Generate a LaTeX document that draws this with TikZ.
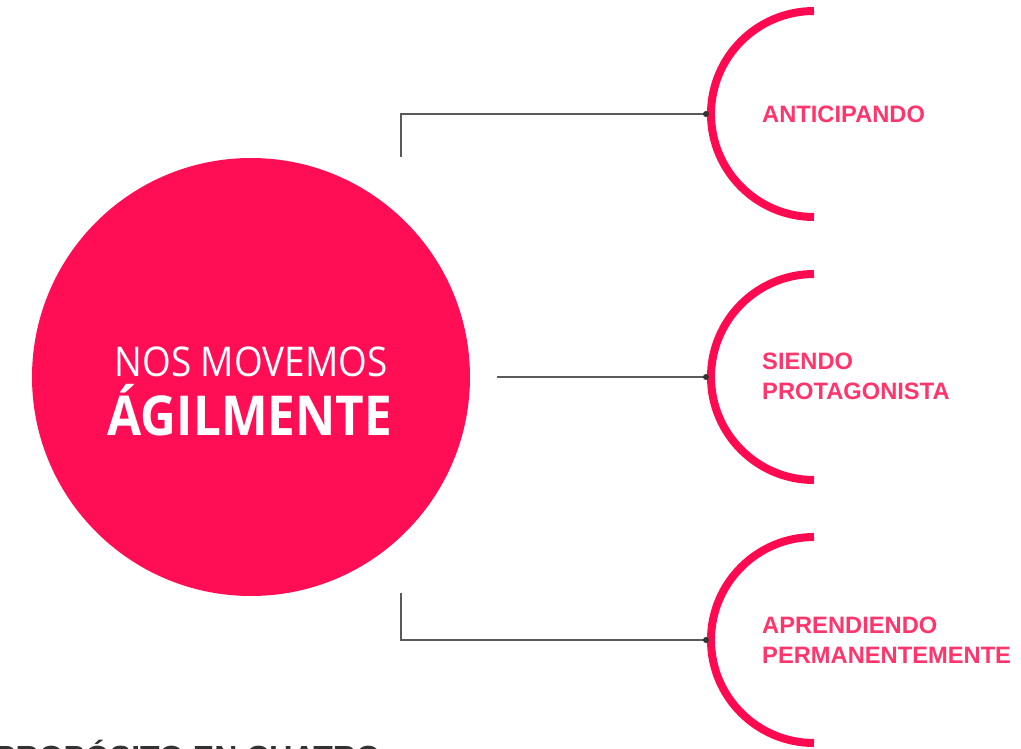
\documentclass[tikz,border=0pt]{standalone}
\usepackage{fontspec}
\setmainfont{Liberation Sans}
\newfontfamily\osans[FakeStretch=0.9]{Open Sans}
\definecolor{brand}{HTML}{FF0D55}
\definecolor{arccol}{HTML}{FF0A50}
\definecolor{labcol}{HTML}{FF356B}
\definecolor{linecol}{HTML}{5A5A5A}
\definecolor{dotcol}{HTML}{333333}
\definecolor{footcol}{HTML}{333333}
\tikzset{
  arcline/.style={draw=arccol, line width=8pt, line cap=butt},
  conn/.style={draw=linecol, line width=1.3pt},
  dotnode/.style={circle, fill=dotcol, minimum size=6pt, inner sep=0pt},
  lab/.style={text=labcol, font=\bfseries\fontsize{23.7}{30}\selectfont, align=left, anchor=west, inner sep=0pt},
}
\begin{document}
\begin{tikzpicture}[x=1pt,y=-1pt]
\useasboundingbox[fill=white] (0,0) rectangle (1021,749);
% hub
\node[circle, fill=brand, minimum size=438pt, inner sep=0pt] (hub) at (251,377) {};
\node[text=white, font=\osans\fontsize{41}{50}\selectfont, anchor=base, inner sep=0pt] (l1) at (251,376) {NOS MOVEMOS};
\node[text=white, font=\osans\bfseries\fontsize{55}{60}\selectfont, anchor=base, inner sep=0pt] (l2) at (250,435) {ÁGILMENTE};
% arcs
\draw[arcline] (814,11) arc[start angle=90, end angle=270, radius=103pt];
\draw[arcline] (814,274) arc[start angle=90, end angle=270, radius=103pt];
\draw[arcline] (814,537) arc[start angle=90, end angle=270, radius=103pt];
% connectors
\coordinate (s1) at (401,157);
\coordinate (s2) at (497,377);
\coordinate (s3) at (401,593);
\coordinate (e1) at (706,114);
\coordinate (e2) at (706,377);
\coordinate (e3) at (706,640);
\draw[conn] (s1) |- (e1);
\draw[conn] (s2) -- (e2);
\draw[conn] (s3) |- (e3);
% dots
\node[dotnode] (d1) at (e1) {};
\node[dotnode] (d2) at (e2) {};
\node[dotnode] (d3) at (e3) {};
% labels
\node[lab] (t1) at (762,114.5) {ANTICIPANDO};
\node[lab] (t2) at (762,376) {SIENDO\\PROTAGONISTA};
\node[lab] (t3) at (762,640) {APRENDIENDO\\PERMANENTEMENTE};
% footer
\node[text=footcol, font=\bfseries\fontsize{32}{36}\selectfont, anchor=base east, inner sep=0pt] (ft) at (381,768) {PROPÓSITO EN CUATRO};
\end{tikzpicture}
\end{document}
